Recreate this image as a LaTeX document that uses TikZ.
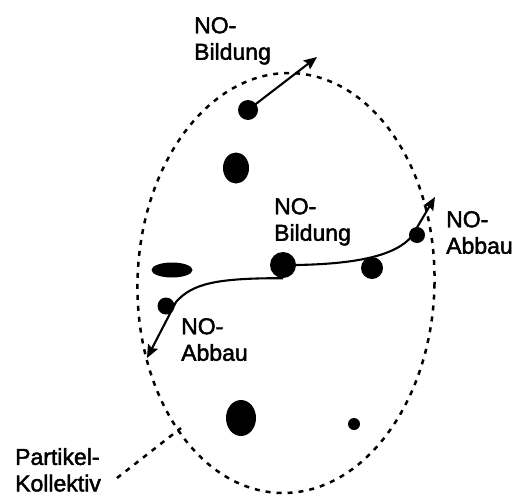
\documentclass[tikz,border=0pt]{standalone}
\usepackage{fontspec}
\setmainfont{Liberation Sans}
\newfontfamily\heavysans[FakeBold=2]{Liberation Sans}
\usetikzlibrary{shapes.geometric,arrows.meta}
\begin{document}
\begin{tikzpicture}[x=1pt,y=-1pt,
  dot/.style={circle,fill=black,inner sep=0pt},
  blob/.style={ellipse,fill=black,inner sep=0pt},
  arr/.style={line width=2.1pt,-{Stealth[length=13pt,width=11pt,inset=2pt]}},
  dsh/.style={line width=2.5pt,dash pattern=on 5pt off 6pt},
  lbl/.style={inner sep=0pt,anchor=north west,align=left,font=\heavysans\fontsize{23}{26.5}\selectfont}]
\useasboundingbox (0,0) rectangle (518,495);
% particle collective
\draw[dsh] (286,283) ellipse [x radius=148.5pt, y radius=210pt, rotate=-1.5];
% particles
\node[dot,minimum size=20pt] (p1) at (248,110) {};
\node[blob,minimum width=26pt,minimum height=31pt] (p2) at (236,168) {};
\node[blob,minimum width=41pt,minimum height=15pt] (p3) at (172,270) {};
\node[dot,minimum size=26pt] (pm) at (283,265) {};
\node[dot,minimum size=22pt] (p5) at (372,268) {};
\node[dot,minimum size=16pt] (p6) at (417,235) {};
\node[dot,minimum size=17pt] (p7) at (166,306) {};
\node[blob,minimum width=30pt,minimum height=36pt] (p8) at (241,418) {};
\node[dot,minimum size=12pt] (p9) at (354,424) {};
% connector ends
\coordinate (tipT) at (317,57);
\coordinate (c1) at (176,302);
\coordinate (tipL) at (147,358);
\coordinate (c2) at (412,236);
\coordinate (tipR) at (435,197);
\coordinate (lead) at (181,428);
% arrows
\draw[arr] (p1.center) -- (tipT);
\draw[arr] (pm.south) .. controls (215,278) and (192,284) .. (c1) -- (tipL);
\draw[arr] (pm.east) .. controls (355,264) and (396,256) .. (c2) -- (tipR);
% labels
\node[lbl] (t1) at (194,17) {NO-\\Bildung};
\node[lbl] (t2) at (274,198) {NO-\\Bildung};
\node[lbl] (t3) at (446,211) {NO-\\Abbau};
\node[lbl] (t4) at (181,318) {NO-\\Abbau};
\node[lbl] (t5) at (15,448) {Partikel-\\Kollektiv};
\coordinate (ls) at (117,478);
\draw[dsh] (ls) -- (lead);
\end{tikzpicture}
\end{document}
